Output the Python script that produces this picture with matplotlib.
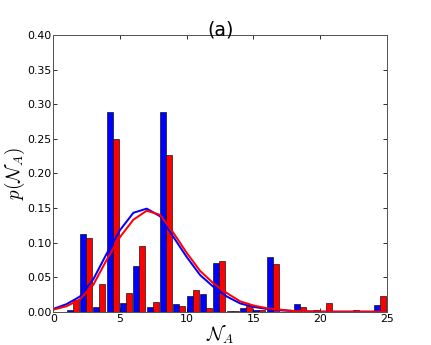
import matplotlib
matplotlib.use('Agg')
import matplotlib.pyplot as plt
import numpy as np

plt.rcParams['mathtext.fontset'] = 'cm'

# bar heights, p(N_A) for N_A = 0..25
n_vals = np.arange(0, 26)
blue_bars = [0.0, 0.002, 0.113, 0.007, 0.289, 0.013, 0.066, 0.007, 0.289, 0.011,
             0.022, 0.026, 0.071, 0.001, 0.006, 0.003, 0.079, 0.0, 0.011, 0.001,
             0.001, 0.0, 0.0, 0.0, 0.009, 0.0]
red_bars = [0.0, 0.017, 0.106, 0.040, 0.249, 0.027, 0.095, 0.0145, 0.226, 0.008,
            0.031, 0.005, 0.073, 0.001, 0.008, 0.002, 0.069, 0.0, 0.007, 0.002,
            0.012, 0.0, 0.002, 0.0, 0.023, 0.0]

# fitted curves
blue_curve = [0.004, 0.011, 0.022, 0.047, 0.084, 0.118, 0.143, 0.149, 0.138, 0.108,
              0.079, 0.053, 0.036, 0.022, 0.012, 0.007, 0.004, 0.002, 0.001, 0.0005,
              0.0, 0.0, 0.0, 0.0, 0.0, 0.0]
red_curve = [0.003, 0.008, 0.018, 0.039, 0.075, 0.108, 0.133, 0.146, 0.140, 0.114,
             0.085, 0.059, 0.041, 0.027, 0.015, 0.009, 0.005, 0.003, 0.001, 0.0005,
             0.0, 0.0, 0.0, 0.0, 0.0, 0.0]

x_ticks = [0, 5, 10, 15, 20, 25]
y_ticks = [0.0, 0.05, 0.10, 0.15, 0.20, 0.25, 0.30, 0.35, 0.40]


def main():
	fig = plt.figure(figsize=(431 / 72.0, 345 / 72.0), dpi=72)
	ax = fig.add_axes([0.1237, 0.0965, 0.774, 0.802])

	w = 0.45
	ax.bar(n_vals, blue_bars, width=w, align='edge', color='b', edgecolor='k', linewidth=0.6)
	ax.bar(n_vals + w, red_bars, width=w, align='edge', color='r', edgecolor='k', linewidth=0.6)

	ax.plot(n_vals, blue_curve, color='b', linewidth=2)
	ax.plot(n_vals, red_curve, color='r', linewidth=2)

	ax.set_xlim([0, 25])
	ax.set_ylim([0, 0.40])
	ax.set_xticks(x_ticks)
	ax.set_yticks(y_ticks)
	ax.set_yticklabels(['%.2f' % v for v in y_ticks])
	ax.tick_params(direction='in', top=True, right=True, length=4, labelsize=11, pad=2)
	for sp in ax.spines.values():
		sp.set_linewidth(1.0)
		sp.set_color('#555555')

	ax.set_xlabel(r'$\mathcal{N}_A$', fontsize=19, labelpad=0)
	ax.set_ylabel(r'$p(\mathcal{N}_A)$', fontsize=19)
	ax.yaxis.set_label_coords(-0.078, 0.5)
	ax.set_title('(a)', fontsize=19, pad=0)

	fig.savefig('out.png', dpi=72)

if __name__ == "__main__":
	main()
